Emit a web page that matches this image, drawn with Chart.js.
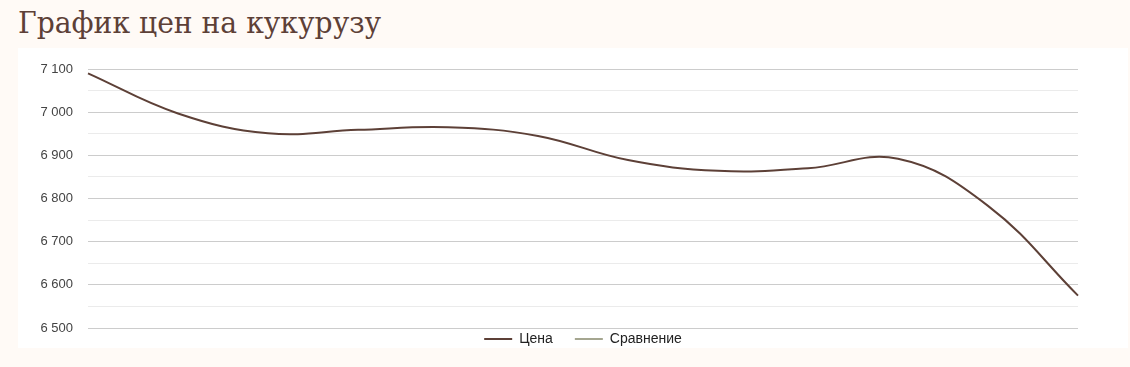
<!DOCTYPE html>
<html>
<head>
<meta charset="utf-8">
<script src="https://cdn.jsdelivr.net/npm/chart.js@4"></script>
<style>
    html, body { margin: 0; padding: 0; }
    body { width: 1130px; height: 367px; background: #fffaf6; position: relative; overflow: hidden; }
    h2 {
        position: absolute; left: 18px; top: 5px; margin: 0;
        font-family: 'DejaVu Serif', serif; font-weight: normal;
        font-size: 30px; color: #5d4037; white-space: nowrap;
        transform: scaleX(0.94); transform-origin: left top;
    }
    #box { position: absolute; left: 18px; top: 48px; width: 1110px; height: 300px; background: #fff; }
</style>
</head>
<body>
<h2>График цен на кукурузу</h2>
<div id="box"><canvas id="myChart" width="1110" height="300"></canvas></div>
<script>
// data
var labels = ['Янв', 'Фев', 'Мар', 'Апр', 'Май', 'Июн', 'Июл', 'Авг', 'Сен', 'Окт', 'Ноя', 'Дек'];
var priceValues = [7090, 6997, 6951, 6959, 6965, 6945, 6889, 6864, 6870, 6892, 6783, 6575];
var compareValues = [];
var yMin = 6500;
var yMax = 7100;

// legend sits right under the plot, but keeps wide gaps between items
const legendShift = 
{
    id: 'legendShift',
    afterLayout: function (chart) {
        chart.legend.top = chart.chartArea.bottom - 18;
    }
};

const data = 
{
    labels: labels,
    datasets: 
    [
        {
            label: 'Цена',
            data: priceValues,
            borderColor: '#5d4037',
            backgroundColor: '#5d4037',
            borderWidth: 2,
            pointRadius: 0,
            tension: 0.4
        },
        {
            label: 'Сравнение',
            data: compareValues,
            borderColor: '#a5a690',
            backgroundColor: '#a5a690',
            borderWidth: 2,
            pointRadius: 0
        }
    ]
};

const config = 
{
    type: 'line',
    data,
    plugins: [legendShift],
    options: 
    {
        responsive: false,
        animation: false,
        layout: { padding: { left: 0, right: 50, top: 21, bottom: 0 } },
        plugins: 
        {
            title: { display: false },
            tooltip: { enabled: false },
            legend: 
            {
                position: 'bottom',
                fullSize: false,
                maxHeight: 20,
                labels: 
                {
                    usePointStyle: true,
                    pointStyle: 'line',
                    pointStyleWidth: 28,
                    padding: 22,
                    color: '#222',
                    font: { family: 'Liberation Sans, Arial', size: 14 }
                }
            }
        },
        scales: 
        {
            x: { display: false },
            y: 
            {
                min: yMin,
                max: yMax,
                afterFit: function (scale) {
                    scale.width = 70;
                    scale.paddingTop = 0;
                    scale.paddingBottom = 0;
                },
                border: { display: false },
                grid: 
                {
                    drawTicks: false,
                    color: function (ctx) {
                        return ctx.tick && ctx.tick.value % 100 === 0 ? '#cccccc' : '#ebebeb';
                    }
                },
                ticks: 
                {
                    stepSize: 50,
                    padding: 15,
                    color: '#444',
                    font: { family: 'Liberation Sans, Arial', size: 13 },
                    callback: function (v) {
                        if (v % 100 !== 0) return '';
                        var s = String(v);
                        return s.slice(0, 1) + ' ' + s.slice(1);
                    }
                }
            }
        }
    }
};

const myChart = new Chart(document.getElementById('myChart'), config);
</script>
</body>
</html>
